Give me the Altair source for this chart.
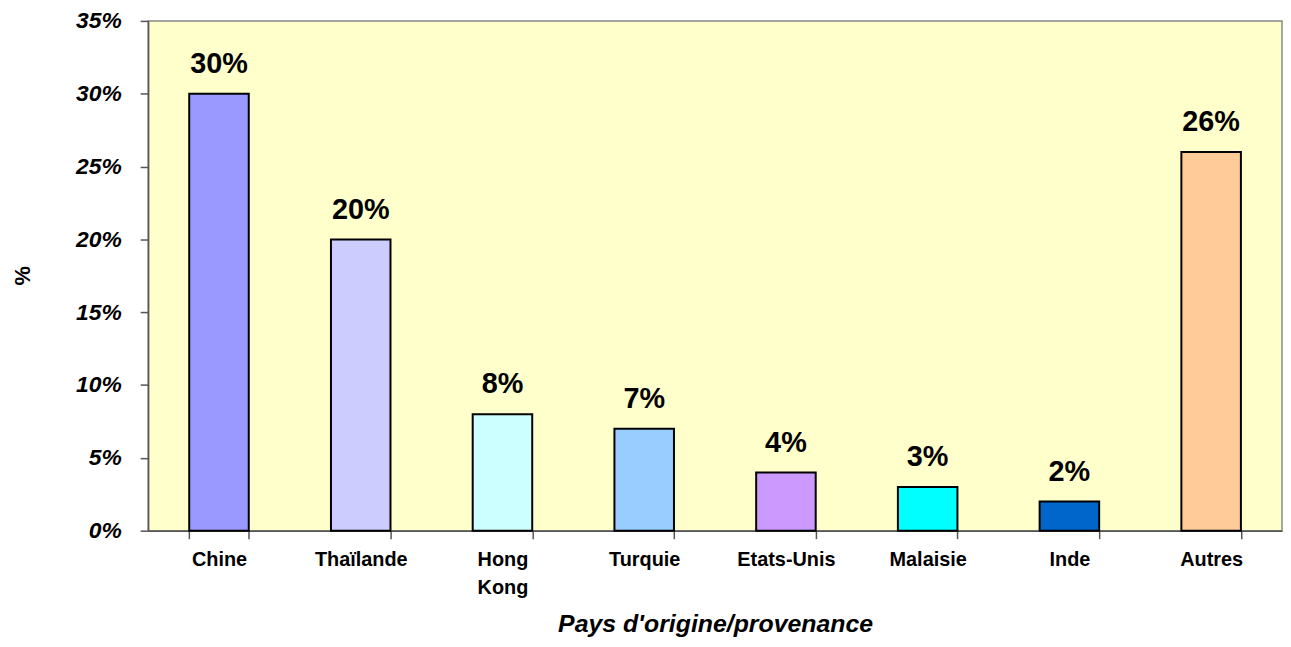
import altair as alt
import pandas as pd

categories = ["Chine", "Thaïlande", "Hong Kong", "Turquie", "Etats-Unis", "Malaisie", "Inde", "Autres"]
values = [0.30, 0.20, 0.08, 0.07, 0.04, 0.03, 0.02, 0.26]
colors = ["#9999FF", "#CCCCFF", "#CCFFFF", "#99CCFF", "#CC99FF", "#00FFFF", "#0066CC", "#FFCC99"]
y_ticks = [0, 0.05, 0.10, 0.15, 0.20, 0.25, 0.30, 0.35]

df = pd.DataFrame({"pays": categories, "part": values})

FONT = "Liberation Sans"

x = alt.X(
    "pays:N",
    sort=categories,
    scale=alt.Scale(paddingInner=0.58, paddingOuter=0.29),
    axis=alt.Axis(
        title="Pays d'origine/provenance",
        titleFont=FONT, titleFontSize=25, titleFontWeight="bold", titleFontStyle="italic",
        titleColor="black", titleY=101, titleBaseline="alphabetic",
        labelFont=FONT, labelFontSize=20, labelFontWeight="bold", labelColor="black",
        labelAngle=0, labelPadding=11, labelBaseline="top", labelLineHeight=28,
        labelExpr="datum.value == 'Hong Kong' ? ['Hong', 'Kong'] : datum.value",
        tickBand="extent", tickSize=8, tickColor="#555555", domainColor="#555555",
        domainWidth=1.5, tickWidth=1.5,
    ),
)

y = alt.Y(
    "part:Q",
    scale=alt.Scale(domain=[0, 0.35], nice=False),
    axis=alt.Axis(
        title="%", values=y_ticks, format=".0%",
        titleFont=FONT, titleFontSize=22, titleFontWeight="bold", titleColor="black",
        titleAngle=-90, titleX=-126, titleY=256, titleAlign="center", titleBaseline="middle",
        labelFont=FONT, labelFontSize=23, labelFontWeight="bold", labelFontStyle="italic",
        labelColor="black", labelPadding=19,
        tickSize=8, tickColor="#555555", domainColor="#555555", domainWidth=1.5, tickWidth=1.5,
        grid=False,
    ),
)

bars = alt.Chart(df).mark_bar(stroke="black", strokeWidth=2).encode(
    x=x,
    y=y,
    color=alt.Color("pays:N", scale=alt.Scale(domain=categories, range=colors), legend=None),
)

labels = alt.Chart(df).mark_text(
    font=FONT, fontSize=29, fontWeight="bold", color="black",
    baseline="alphabetic", dy=-21,
).encode(
    x=alt.X("pays:N", sort=categories),
    y=alt.Y("part:Q"),
    text=alt.Text("part:Q", format=".0%"),
)

chart = (
    alt.layer(bars, labels)
    .properties(
        width=1141, height=513,
        autosize=alt.AutoSizeParams(type="none"),
        padding={"left": 141, "top": 11, "right": 1, "bottom": 107},
    )
    .configure(background="white")
    .configure_view(fill="#FFFFCC", stroke="#888888", strokeWidth=1.5)
)

chart.save("out.html", embed_options={"renderer": "svg", "actions": False})
